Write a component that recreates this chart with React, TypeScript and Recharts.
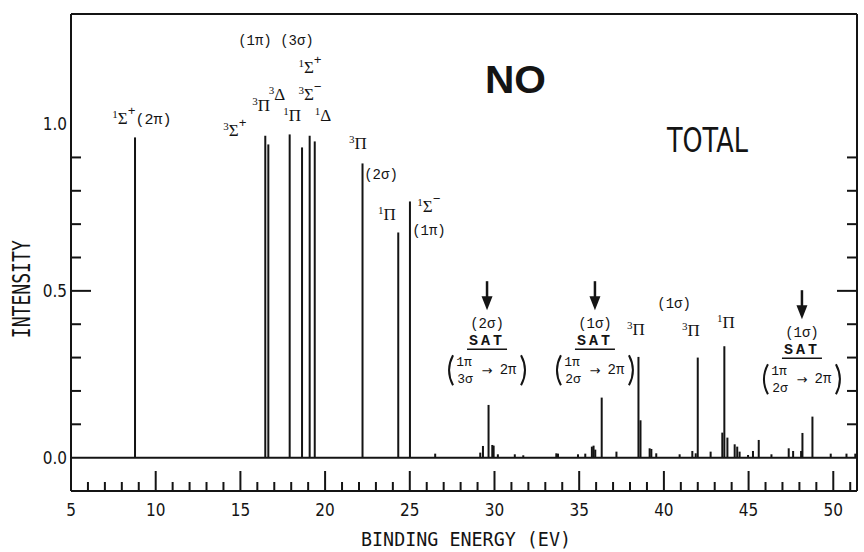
import { ComposedChart, Bar, Scatter, XAxis, YAxis, ReferenceLine } from "recharts";

// strong lines: binding energy (eV) and relative intensity
const mainEnergy = [8.78, 16.47, 16.65, 17.91, 18.64, 19.09, 19.39, 22.21, 24.32, 25.01];
const mainIntensity = [0.96, 0.965, 0.939, 0.969, 0.93, 0.965, 0.948, 0.882, 0.675, 0.768];

// weak lines in the satellite region
const satEnergy = [
  26.5, 29.16, 29.32, 29.65, 29.87, 29.95, 30.2, 31.2, 31.7, 33.65, 33.75, 34.93,
  35.36, 35.75, 35.85, 35.95, 36.33, 37.2, 38.5, 38.62, 39.16, 39.26, 39.55, 40.93,
  41.68, 41.88, 42.0, 42.76, 43.45, 43.57, 43.75, 44.18, 44.33, 44.47, 44.97, 45.26,
  45.6, 46.35, 47.37, 47.63, 48.1, 48.18, 48.77, 49.85, 50.78, 51.3,
];
const satIntensity = [
  0.012, 0.015, 0.035, 0.158, 0.038, 0.036, 0.01, 0.01, 0.007, 0.013, 0.012, 0.01,
  0.012, 0.033, 0.036, 0.024, 0.18, 0.018, 0.302, 0.112, 0.028, 0.026, 0.013, 0.01,
  0.02, 0.013, 0.3, 0.018, 0.075, 0.334, 0.06, 0.04, 0.033, 0.018, 0.008, 0.02,
  0.053, 0.01, 0.028, 0.02, 0.02, 0.074, 0.123, 0.012, 0.012, 0.012,
];

const xTicks = [
  5, 6, 7, 8, 9, 10, 11, 12, 13, 14, 15, 16, 17, 18, 19, 20, 21, 22, 23, 24, 25, 26, 27, 28,
  29, 30, 31, 32, 33, 34, 35, 36, 37, 38, 39, 40, 41, 42, 43, 44, 45, 46, 47, 48, 49, 50, 51,
];
const xLabels = [5, 10, 15, 20, 25, 30, 35, 40, 45, 50];
const yTicks = [0, 0.1, 0.2, 0.3, 0.4, 0.5, 0.6, 0.7, 0.8, 0.9, 1.0];
const yLabels = [0, 0.5, 1.0];
const yTicksRight = [0.1, 0.2, 0.3, 0.4, 0.5, 0.6, 0.7, 0.8, 0.9];

// state labels placed next to the lines (e, i = anchor in data units)
const termLabels = [
  { e: 9.19, i: 1.0, mult: "1", sym: "Σ", sign: "+", tail: "(2π)" },
  { e: 14.68, i: 0.963, mult: "3", sym: "Σ", sign: "+" },
  { e: 16.22, i: 1.04, mult: "3", sym: "Π" },
  { e: 17.16, i: 1.073, mult: "3", sym: "Δ" },
  { e: 18.05, i: 1.008, mult: "1", sym: "Π" },
  { e: 19.11, i: 1.152, mult: "1", sym: "Σ", sign: "+" },
  { e: 19.11, i: 1.073, mult: "3", sym: "Σ", sign: "−" },
  { e: 19.88, i: 1.008, mult: "1", sym: "Δ" },
  { e: 21.94, i: 0.924, mult: "3", sym: "Π" },
  { e: 23.65, i: 0.711, mult: "1", sym: "Π" },
  { e: 26.13, i: 0.735, mult: "1", sym: "Σ", sign: "−" },
  { e: 38.35, i: 0.367, mult: "3", sym: "Π" },
  { e: 41.6, i: 0.364, mult: "3", sym: "Π" },
  { e: 43.66, i: 0.388, mult: "1", sym: "Π" },
];
const orbitalLabels = [
  { e: 17.1, i: 1.238, text: "(1π) (3σ)" },
  { e: 23.3, i: 0.834, text: "(2σ)" },
  { e: 26.13, i: 0.666, text: "(1π)" },
  { e: 40.6, i: 0.448, text: "(1σ)" },
];
const satGroups = [
  { e: 29.56, i: 0.529, hole: "(2σ)", lower: "3σ" },
  { e: 35.93, i: 0.529, hole: "(1σ)", lower: "2σ" },
  { e: 48.15, i: 0.502, hole: "(1σ)", lower: "2σ" },
];
const titles = [
  { e: 31.24, i: 1.092, text: "NO", big: true },
  { e: 42.57, i: 0.915, text: "TOTAL", big: false },
];

const lines = [
  ...mainEnergy.map((e, k) => ({ e, i: mainIntensity[k] })),
  ...satEnergy.map((e, k) => ({ e, i: satIntensity[k] })),
];

const INK = "#141414";
const MONO = "'Liberation Mono', 'DejaVu Sans Mono', monospace";
const SERIF = "'Liberation Serif', 'DejaVu Serif', serif";
const NARROW = "'Liberation Sans Narrow', 'DejaVu Sans Condensed', 'DejaVu Sans', sans-serif";

const Stick = (p: any) => {
  const cx = p.x + p.width / 2;
  return <rect x={cx - 1} y={p.y} width={2} height={Math.max(p.height, 0)} fill={INK} />;
};

const XTick = ({ x, y, payload }: any) => {
  const major = xLabels.includes(payload.value);
  return (
    <g>
      <line x1={x} x2={x} y1={y} y2={y - (major ? 20 : 9)} stroke={INK} strokeWidth={2} />
      {major && (
        <text x={x} y={y + 25} textAnchor="middle" fontSize={17} fontFamily={NARROW} fill={INK}>
          {payload.value}
        </text>
      )}
    </g>
  );
};

const YTickLeft = ({ x, y, payload }: any) => {
  const v = payload.value;
  const lab = yLabels.includes(v);
  const showLine = v > 0 && v < 1;
  return (
    <g>
      {showLine && (
        <line x1={x} x2={x + (v === 0.5 ? 20 : 10)} y1={y} y2={y} stroke={INK} strokeWidth={2} />
      )}
      {lab && (
        <text x={x - 4} y={y + 6} textAnchor="end" fontSize={17} fontFamily={NARROW} fill={INK}>
          {v.toFixed(1)}
        </text>
      )}
    </g>
  );
};

const YTickRight = ({ x, y, payload }: any) => {
  const v = payload.value;
  return (
    <line x1={x} x2={x - (v === 0.5 ? 20 : 10)} y1={y} y2={y} stroke={INK} strokeWidth={2} />
  );
};

const TermLabel = ({ cx, cy, payload }: any) => (
  <text x={cx} y={cy} textAnchor="middle" fill={INK} fontFamily={SERIF} fontSize={17}>
    <tspan fontSize={11} dy={-6}>{payload.mult}</tspan>
    <tspan dy={6}>{payload.sym}</tspan>
    {payload.sign && (
      <tspan fontSize={13} dy={-9} fontFamily={MONO}>{payload.sign}</tspan>
    )}
    {payload.tail && (
      <tspan fontSize={15} dy={9} fontFamily={MONO}>{payload.tail}</tspan>
    )}
  </text>
);

const OrbitalLabel = ({ cx, cy, payload }: any) => (
  <text x={cx} y={cy} textAnchor="middle" fill={INK} fontFamily={MONO} fontSize={14}>
    {payload.text}
  </text>
);

const SatGroup = ({ cx, cy, payload }: any) => (
  <g fill={INK} stroke="none">
    <line x1={cx} x2={cx} y1={cy} y2={cy + 18} stroke={INK} strokeWidth={2.5} />
    <path d={`M${cx - 5.5},${cy + 15} L${cx + 5.5},${cy + 15} L${cx},${cy + 29} Z`} fill={INK} />
    <text x={cx} y={cy + 47} textAnchor="middle" fontFamily={MONO} fontSize={14}>
      {payload.hole}
    </text>
    <text
      x={cx}
      y={cy + 64}
      textAnchor="middle"
      fontFamily={MONO}
      fontSize={15}
      fontWeight="bold"
      letterSpacing={3}
    >
      SAT
    </text>
    <line x1={cx - 20} x2={cx + 20} y1={cy + 68} y2={cy + 68} stroke={INK} strokeWidth={1.5} />
    <path
      d={`M${cx - 34},${cy + 74} Q${cx - 42},${cy + 89} ${cx - 34},${cy + 104}`}
      fill="none"
      stroke={INK}
      strokeWidth={2}
    />
    <path
      d={`M${cx + 34},${cy + 74} Q${cx + 42},${cy + 89} ${cx + 34},${cy + 104}`}
      fill="none"
      stroke={INK}
      strokeWidth={2}
    />
    <text x={cx - 23} y={cy + 85} textAnchor="middle" fontFamily={MONO} fontSize={13}>
      1π
    </text>
    <text x={cx - 22} y={cy + 102} textAnchor="middle" fontFamily={MONO} fontSize={13}>
      {payload.lower}
    </text>
    <text x={cx} y={cy + 94} textAnchor="middle" fontFamily="'DejaVu Sans', sans-serif" fontSize={13}>
      →
    </text>
    <text x={cx + 21} y={cy + 93} textAnchor="middle" fontFamily={MONO} fontSize={14}>
      2π
    </text>
  </g>
);

const Title = ({ cx, cy, payload }: any) =>
  payload.big ? (
    <text
      x={cx}
      y={cy}
      textAnchor="middle"
      fontFamily="'Liberation Sans', Arial, sans-serif"
      fontWeight="bold"
      fontSize={39}
      textLength={61}
      lengthAdjust="spacingAndGlyphs"
      fill={INK}
    >
      {payload.text}
    </text>
  ) : (
    <text
      x={cx}
      y={cy}
      textAnchor="middle"
      fontFamily="'DejaVu Sans', sans-serif"
      fontSize={33}
      textLength={81}
      lengthAdjust="spacingAndGlyphs"
      fill={INK}
    >
      {payload.text}
    </text>
  );

export default function App() {
  return (
    <div style={{ position: "absolute", left: 0, top: 0, background: "#fff" }}>
      <ComposedChart
        width={864}
        height={552}
        data={lines}
        margin={{ top: 14, right: 6, left: 70, bottom: 60 }}
      >
        <XAxis
          type="number"
          dataKey="e"
          domain={[5, 51.4]}
          allowDataOverflow
          ticks={xTicks}
          interval={0}
          height={1}
          tickSize={0}
          tickMargin={0}
          tickLine={false}
          tick={<XTick />}
          axisLine={{ stroke: INK, strokeWidth: 2 }}
          label={(props: any) => {
            const vb = props.viewBox;
            return (
              <text
                x={vb.x + vb.width / 2 + 2}
                y={vb.y + 55}
                textAnchor="middle"
                fontFamily="'DejaVu Sans Mono', monospace"
                fontSize={19}
                textLength={210}
                lengthAdjust="spacingAndGlyphs"
                fill={INK}
              >
                BINDING ENERGY (EV)
              </text>
            );
          }}
        />
        <YAxis
          type="number"
          dataKey="i"
          domain={[-0.1, 1.33]}
          allowDataOverflow
          ticks={yTicks}
          interval={0}
          width={1}
          tickSize={0}
          tickMargin={0}
          tickLine={false}
          tick={<YTickLeft />}
          axisLine={{ stroke: INK, strokeWidth: 2 }}
          label={(props: any) => {
            const vb = props.viewBox;
            const cx = vb.x + vb.width - 49;
            const cy = vb.y + vb.height * 0.577;
            return (
              <text
                x={cx}
                y={cy}
                textAnchor="middle"
                dominantBaseline="central"
                transform={`rotate(-90 ${cx} ${cy})`}
                fontFamily="'DejaVu Sans Mono', monospace"
                fontSize={24}
                textLength={98}
                lengthAdjust="spacingAndGlyphs"
                fill={INK}
              >
                INTENSITY
              </text>
            );
          }}
        />
        <YAxis
          yAxisId="r"
          orientation="right"
          type="number"
          domain={[-0.1, 1.33]}
          allowDataOverflow
          ticks={yTicksRight}
          interval={0}
          width={1}
          tickSize={0}
          tickMargin={0}
          tickLine={false}
          tick={<YTickRight />}
          axisLine={{ stroke: INK, strokeWidth: 2 }}
        />
        <ReferenceLine y={1.33} stroke={INK} strokeWidth={2} />
        <ReferenceLine y={0} stroke={INK} strokeWidth={2} />
        <Bar dataKey="i" barSize={2} shape={Stick} isAnimationActive={false} />
        <Scatter data={termLabels} dataKey="i" shape={TermLabel} isAnimationActive={false} />
        <Scatter data={orbitalLabels} dataKey="i" shape={OrbitalLabel} isAnimationActive={false} />
        <Scatter data={satGroups} dataKey="i" shape={SatGroup} isAnimationActive={false} />
        <Scatter data={titles} dataKey="i" shape={Title} isAnimationActive={false} />
      </ComposedChart>
    </div>
  );
}
